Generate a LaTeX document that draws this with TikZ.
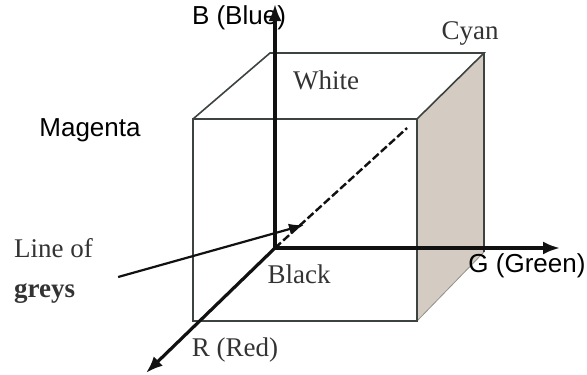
\documentclass[tikz,border=0pt]{standalone}
\usepackage{fontspec}
\setmainfont{Liberation Serif}
\setsansfont{Liberation Sans}
\usetikzlibrary{calc,arrows.meta,positioning}
\definecolor{rgb-edge}{HTML}{3C4340}
\definecolor{rgb-axis}{HTML}{111111}
\definecolor{rgb-side}{HTML}{D4CCC3}
\definecolor{rgb-text}{HTML}{333333}

\begin{document}
\begin{tikzpicture}[x=1pt, y=-1pt, >={Latex[length=17pt,width=13pt]},
    font=\fontsize{27}{40}\selectfont,
    edge/.style={rgb-edge, line width=1.6pt},
    axis/.style={->, rgb-axis, line width=3.2pt},
    lbl/.style={text=rgb-text, inner sep=0pt},
    sanslbl/.style={lbl, text=black, font=\sffamily\fontsize{26}{30}\selectfont}]
    \useasboundingbox (0,0) rectangle (587,375);

    % Cube corners (back face holds the black corner)
    \coordinate (O) at (275,248);
    \coordinate (blue) at (270,53);
    \coordinate (cyan) at (484,53);
    \coordinate (green) at (484,252);
    \coordinate (magenta) at (193,119);
    \coordinate (white) at (417,119);
    \coordinate (yellow) at (417,321);
    \coordinate (red) at (193,321);

    % Axis tips
    \coordinate (Btip) at (275,4);
    \coordinate (Gtip) at (560,248);
    \coordinate (Rtip) at (146,373);
    \coordinate (greyend) at (304,225);

    % --- Side face and edges ---
    \fill[rgb-side] (white) -- (cyan) -- (green) -- (yellow) -- cycle;
    \draw[rgb-side!70!black, line width=0.8pt] (yellow) -- (green);
    \draw[edge] (magenta) -- (blue) -- (cyan) -- (white);
    \draw[edge] (cyan) -- (green);
    \draw[edge] (magenta) rectangle (yellow);

    % --- Line of greys ---
    \draw[rgb-axis, line width=2.4pt, dash pattern=on 8pt off 3pt] (O) -- ($(O)!0.93!(white)$);

    % --- Labels ---
    \node[sanslbl] (Blbl) at (239,18) {B (Blue)};
    \node[lbl] (Cyanlbl) at (470,33) {Cyan};
    \node[lbl] (Whitelbl) at (326,80) {White};
    \node[sanslbl] (Maglbl) at (90,130) {Magenta};
    \node[lbl, anchor=west, align=left] (greys) at (14,271) {Line of\\\textbf{greys}};
    \node[lbl] (Blacklbl) at (299,274) {Black};
    \node[sanslbl] (Glbl) at (527,266) {G (Green)};
    \node[lbl] (Rlbl) at (235,350) {R (Red)};

    % --- Axes ---
    \draw[axis] (O) -- (Btip);
    \draw[axis] (O) -- (Gtip);
    \draw[axis] (O) -- (Rtip);
    \draw[->, rgb-axis, line width=2.2pt, >={Latex[length=15pt,width=11pt]}]
        ([xshift=25pt,yshift=-6pt]greys.east) -- (greyend);
\end{tikzpicture}
\end{document}
